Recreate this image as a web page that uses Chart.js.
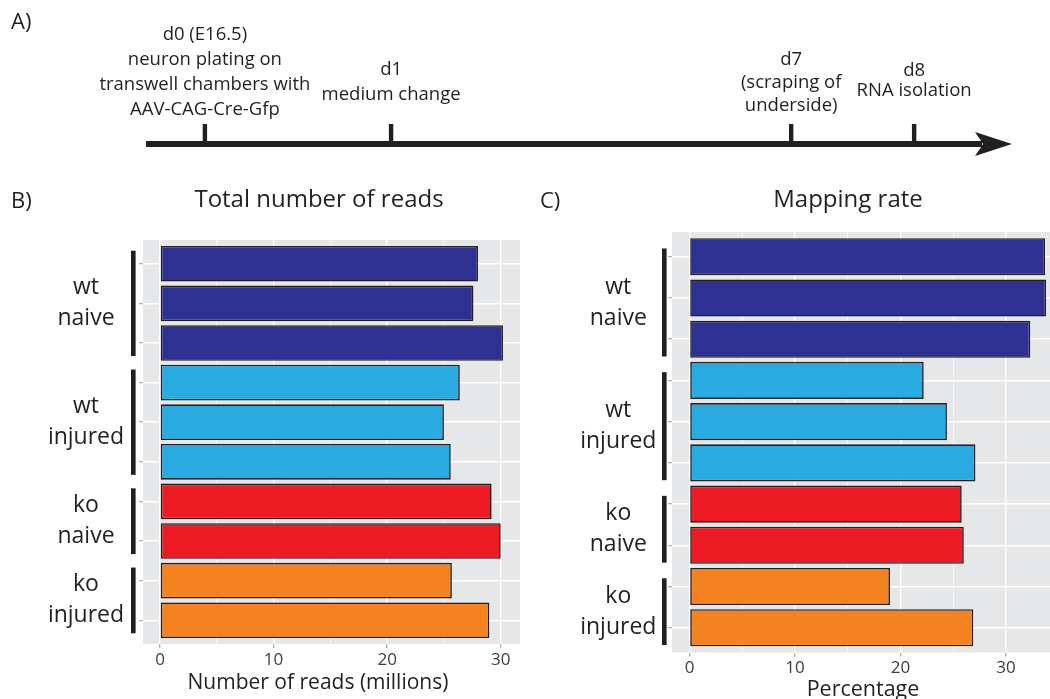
<!DOCTYPE html>
<html>
<head>
<meta charset="utf-8">
<script src="https://cdn.jsdelivr.net/npm/chart.js@4.4.1/dist/chart.umd.min.js"></script>
<style>
  body { margin: 0; background: #fff; }
  #page { position: relative; width: 1050px; height: 699px; overflow: hidden; font-family: "Open Sans", sans-serif; color: #231f20; }
  .box { position: absolute; }
  .txt { position: absolute; white-space: nowrap; line-height: 1; transform: translate(-50%, -50%); }
  .lbl { position: absolute; white-space: nowrap; line-height: 1; transform: translate(0, -50%); }
</style>
</head>
<body>
<div id="page">
  <div class="box" style="left:0;top:0;width:1050px;height:170px"><canvas id="timeline"></canvas></div>
  <div class="box" style="left:0;top:170px;width:530px;height:529px"><canvas id="readsChart"></canvas></div>
  <div class="box" style="left:530px;top:170px;width:520px;height:529px"><canvas id="mapChart"></canvas></div>

  <div class="lbl" style="left:11px;top:20px;font-size:22px">A)</div>
  <div class="lbl" style="left:11px;top:199px;font-size:22px">B)</div>
  <div class="lbl" style="left:540px;top:199px;font-size:22px">C)</div>
  <div class="txt" style="left:319px;top:198px;font-size:24px">Total number of reads</div>
  <div class="txt" style="left:848px;top:198px;font-size:24px">Mapping rate</div>
  <div class="txt" style="left:318px;top:681px;font-size:21px">Number of reads (millions)</div>
  <div class="txt" style="left:863px;top:688px;font-size:21.5px">Percentage</div>
</div>

<script>
// panel A: schematic timeline (position along the arrow, 0 = start, 100 = tip)
const timelineDays = ["d0 (E16.5)", "d1", "d7", "d8"];
const timelineNotes = [
  ["neuron plating on", "transwell chambers with", "AAV-CAG-Cre-Gfp"],
  ["medium change"],
  ["(scraping of", "underside)"],
  ["RNA isolation"],
];
const timelinePos = [6.8, 28.3, 74.5, 88.7];

// panels B and C
const groupLabels = [["wt", "naive"], ["wt", "injured"], ["ko", "naive"], ["ko", "injured"]];
const groupSizes = [3, 3, 2, 2];
const groupColors = ["#2e3192", "#29abe2", "#ed1c24", "#f58220"];
const totalReads = [28.0, 27.6, 30.2, 26.4, 25.0, 25.6, 29.2, 30.0, 25.7, 29.0];
const mappingRate = [33.7, 33.8, 32.3, 22.2, 24.4, 27.1, 25.8, 26.0, 19.0, 26.9];
const xGridValues = [0, 5, 10, 15, 20, 25, 30];
const xLabelValues = [0, 10, 20, 30];

const ink = "#231f20";

// layout of the timeline labels (bottom line centre, line gap)
const noteBottom = [110, 95, 106, 91];
const noteGap = [25, 25, 23, 20];

const timelinePlugin = {
  id: "timelineArrow",
  afterDraw(chart) {
    const ctx = chart.ctx;
    const xs = chart.scales.x;
    const y0 = chart.scales.y.getPixelForValue(0);
    const tip = xs.getPixelForValue(100);
    ctx.save();
    ctx.fillStyle = ink;
    ctx.fillRect(xs.getPixelForValue(0), y0 - 3, tip - 30 - xs.getPixelForValue(0), 6);
    ctx.beginPath();
    ctx.moveTo(tip, y0);
    ctx.lineTo(tip - 37, y0 - 12);
    ctx.lineTo(tip - 29, y0);
    ctx.lineTo(tip - 37, y0 + 12);
    ctx.closePath();
    ctx.fill();

    ctx.font = '18.5px "Open Sans"';
    ctx.textAlign = "center";
    ctx.textBaseline = "middle";
    timelinePos.forEach((p, i) => {
      const x = xs.getPixelForValue(p);
      ctx.fillRect(x - 2.2, y0 - 20, 4.4, 20);
      const lines = [timelineDays[i]].concat(timelineNotes[i]);
      lines.forEach((t, j) => {
        ctx.fillText(t, x, noteBottom[i] - (lines.length - 1 - j) * noteGap[i]);
      });
    });
    ctx.restore();
  },
};

new Chart(document.getElementById("timeline"), {
  type: "scatter",
  data: { datasets: [{ data: timelinePos.map((p) => ({ x: p, y: 0 })), pointRadius: 0 }] },
  options: {
    animation: false,
    responsive: true,
    maintainAspectRatio: false,
    devicePixelRatio: 1,
    layout: { padding: { left: 146, right: 38, top: 0, bottom: 26 } },
    plugins: { legend: { display: false }, tooltip: { enabled: false } },
    scales: {
      x: { type: "linear", min: 0, max: 100, display: false },
      y: { type: "linear", min: 0, max: 1, display: false },
    },
  },
  plugins: [timelinePlugin],
});

function panelChart(id, values, cfg) {
  const colors = [];
  groupSizes.forEach((n, g) => {
    for (let i = 0; i < n; i++) colors.push(groupColors[g]);
  });

  const panelPlugin = {
    id: "panelDeco",
    beforeDraw(chart) {
      const a = chart.chartArea;
      chart.ctx.save();
      chart.ctx.fillStyle = "#e6e7e8";
      chart.ctx.fillRect(a.left, a.top, a.right - a.left, a.bottom - a.top);
      chart.ctx.restore();
    },
    afterDraw(chart) {
      const ctx = chart.ctx;
      const ys = chart.scales.y;
      ctx.save();
      ctx.fillStyle = ink;
      ctx.font = '23px "Open Sans"';
      ctx.textAlign = "center";
      ctx.textBaseline = "middle";
      let start = 0;
      groupSizes.forEach((n, g) => {
        const y1 = ys.getPixelForValue(start - cfg.padTop);
        const y2 = ys.getPixelForValue(start + n - 1 + cfg.padBottom);
        ctx.fillRect(cfg.barX - 2.3, y1, 4.6, y2 - y1);
        const mid = (y1 + y2) / 2;
        ctx.fillText(groupLabels[g][0], cfg.labelX, mid - 15.5);
        ctx.fillText(groupLabels[g][1], cfg.labelX, mid + 15.5);
        start += n;
      });
      ctx.restore();
    },
  };

  return new Chart(document.getElementById(id), {
    type: "bar",
    data: {
      datasets: [
        {
          data: values.map((v, i) => ({ x: v, y: i })),
          backgroundColor: colors,
          borderColor: ink,
          borderWidth: 1.6,
          borderSkipped: false,
          barPercentage: 0.9,
          categoryPercentage: 1,
        },
      ],
    },
    options: {
      indexAxis: "y",
      animation: false,
      responsive: true,
      maintainAspectRatio: false,
      devicePixelRatio: 1,
      layout: { padding: cfg.padding },
      plugins: { legend: { display: false }, tooltip: { enabled: false } },
      scales: {
        x: {
          type: "linear",
          min: cfg.xMin,
          max: cfg.xMax,
          afterBuildTicks: (s) => {
            s.ticks = xGridValues.map((v) => ({ value: v }));
          },
          afterFit: (s) => {
            s.height = 40;
          },
          ticks: {
            autoSkip: false,
            maxRotation: 0,
            padding: cfg.tickPad,
            color: "#3d3d3d",
            font: { family: "Open Sans", size: 17 },
            callback: (v) => (xLabelValues.includes(v) ? String(v) : ""),
          },
          grid: {
            color: "#ffffff",
            lineWidth: (c) => (c.tick && xLabelValues.includes(c.tick.value) ? 1.4 : 0.6),
            tickColor: (c) => (c.tick && xLabelValues.includes(c.tick.value) ? "#a7a9ac" : "rgba(0,0,0,0)"),
            tickLength: 4,
            tickWidth: 1.2,
          },
          border: { display: false },
        },
        y: {
          type: "linear",
          offset: false,
          min: -0.6,
          max: values.length - 0.4,
          reverse: true,
          afterBuildTicks: (s) => {
            s.ticks = values.map((v, i) => ({ value: i }));
          },
          afterFit: (s) => {
            s.width = 10;
          },
          ticks: { display: false },
          grid: {
            offset: false,
            color: "#ffffff",
            lineWidth: 1.4,
            tickColor: "#a7a9ac",
            tickLength: 4,
            tickWidth: 1.2,
          },
          border: { display: false },
        },
      },
    },
    plugins: [panelPlugin],
  });
}

panelChart("readsChart", totalReads, {
  xMin: -1.5,
  xMax: 31.7,
  padding: { left: 133, right: 10, top: 70, bottom: 15 },
  tickPad: 2,
  barX: 133.3,
  labelX: 86,
  padTop: 0.33,
  padBottom: 0.33,
});

panelChart("mapChart", mappingRate, {
  xMin: -1.66,
  xMax: 34.17,
  padding: { left: 132, right: 0, top: 62, bottom: 6.5 },
  tickPad: 1,
  barX: 134.3,
  labelX: 88.3,
  padTop: 0.2,
  padBottom: 0.42,
});
</script>
</body>
</html>
